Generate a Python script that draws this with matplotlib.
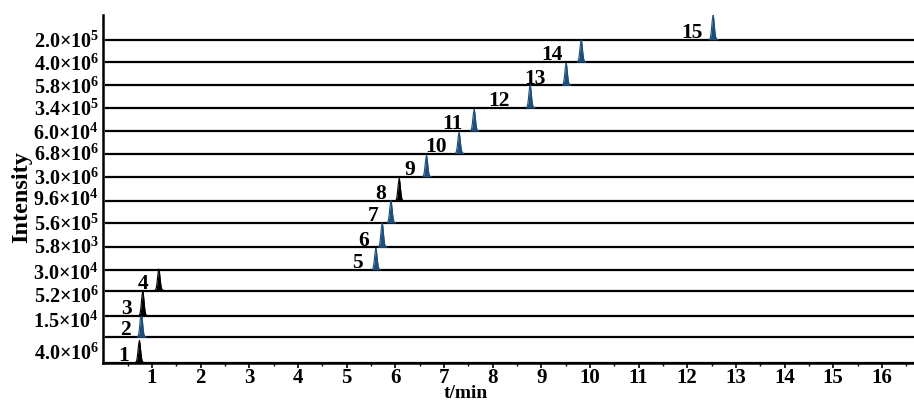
#!/usr/bin/env python3
"""
Stacked chromatograms of 15 analytes (t/min vs intensity), one lane per peak.

Output:
- out.png
"""

import numpy as np
import matplotlib.pyplot as plt

# peak numbers, retention times (min) and relative peak heights (lane units)
peak_ids = [str(i) for i in range(1, 16)]
retention_times = [0.74, 0.78, 0.81, 1.14, 5.60, 5.73, 5.91, 6.08, 6.64,
                   7.31, 7.62, 8.77, 9.51, 9.82, 12.53]
peak_heights = [0.90, 1.05, 1.02, 0.87, 0.87, 1.00, 0.90, 0.92, 0.87,
                0.85, 0.88, 0.95, 0.91, 0.91, 1.00]
black_peaks = ['1', '3', '4', '8']

# intensity scale labels on the left, top to bottom
scale_labels = ['2.0×10$^{5}$', '4.0×10$^{6}$', '5.8×10$^{6}$', '3.4×10$^{5}$',
                '6.0×10$^{4}$', '6.8×10$^{6}$', '3.0×10$^{6}$', '9.6×10$^{4}$',
                '5.6×10$^{5}$', '5.8×10$^{3}$', '3.0×10$^{4}$', '5.2×10$^{6}$',
                '1.5×10$^{4}$', '4.0×10$^{6}$']

# layout: lane baselines and label heights (lane units, bottom = 0)
lane_base = [0, 1.10, 2.03, 3.13, 4.03, 5.0, 6.06, 7.0, 8.06, 9.07,
             10.04, 11.04, 12.02, 13.03, 14.0]
label_y = [14.0, 13.0, 12.0, 11.05, 10.02, 9.1, 8.06, 7.15, 6.06, 5.06,
           3.94, 2.94, 1.85, 0.46]
num_dx = [0.22, 0.22, 0.22, 0.22, 0.26, 0.26, 0.26, 0.26, 0.24, 0.24,
          0.24, 0.42, 0.42, 0.38, 0.22]

BLUE = '#1d4e79'
X_MAX = 16.66
Y_MAX = 15.08

plt.rcParams['font.family'] = ['Liberation Serif', 'DejaVu Serif']
plt.rcParams['font.weight'] = 'bold'
plt.rcParams['mathtext.default'] = 'regular'


def peak_shape(t, t0, h, sigma=0.026):
    y = h * np.exp(-0.5 * ((t - t0) / sigma) ** 2)
    tail = np.where(t > t0, 0.07 * h * np.exp(-(t - t0) / 0.05), 0.0)
    return y + tail


fig = plt.figure(figsize=(9.14, 4.03), dpi=100)
ax = fig.add_axes([0.113, 0.100, 0.887, 0.863])

t = np.linspace(0.05, X_MAX, 8000)
for i, (pid, t0, h, base) in enumerate(zip(peak_ids, retention_times,
                                           peak_heights, lane_base)):
    color = 'black' if pid in black_peaks else BLUE
    ax.plot([0.06, X_MAX], [base, base], color='black', lw=1.6, zorder=2)
    y = peak_shape(t, t0, h)
    m = y > 0.01
    ax.fill_between(t[m], base, base + y[m], color=color, lw=0, zorder=3)
    ax.plot(t[m], base + y[m], color=color, lw=0.8, zorder=3)
    ax.text(t0 - num_dx[i], base + 0.08, pid, ha='right', va='baseline',
            fontsize=15.5, fontweight='bold')

ax.set_xlim(0, X_MAX)
ax.set_ylim(0, Y_MAX)

ax.set_yticks(label_y)
ax.set_yticklabels(scale_labels, fontsize=14.5, fontweight='bold')
ax.tick_params(axis='y', length=0, pad=3)

ax.set_xticks(range(1, 17))
ax.set_xticks(np.arange(0.5, 16.6, 1.0), minor=True)
ax.tick_params(axis='x', which='major', length=3.5, width=1.2, labelsize=15, pad=0)
ax.tick_params(axis='x', which='minor', length=2.5, width=1.0)
for lbl in ax.get_xticklabels():
    lbl.set_fontweight('bold')

ax.spines['top'].set_visible(False)
ax.spines['right'].set_visible(False)
ax.spines['left'].set_linewidth(1.8)
ax.spines['bottom'].set_linewidth(1.8)

fig.text(0.51, 0.002, 't/min', ha='center', va='bottom',
         fontsize=14, fontweight='bold')
fig.text(0.024, 0.51, 'Intensity', rotation=90, ha='center', va='center',
         fontsize=17.5, fontweight='bold')

fig.savefig('out.png', dpi=100)
plt.close(fig)
